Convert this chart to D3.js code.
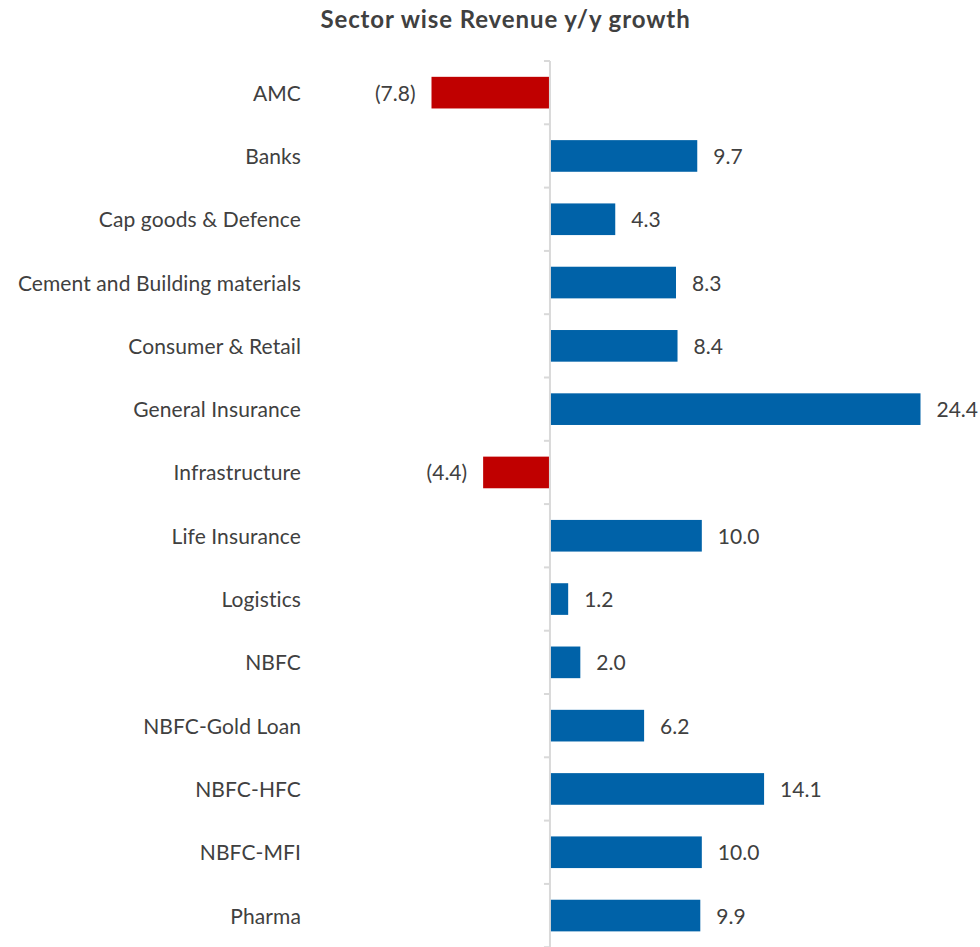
<!DOCTYPE html>
<html>
<head>
<meta charset="utf-8">
<script src="https://cdn.jsdelivr.net/npm/d3@7"></script>
<style>
  body { margin: 0; background: #fff; }
  text { font-family: Lato, "Open Sans", sans-serif; fill: #404040; }
</style>
</head>
<body>
<div id="chart"></div>
<script>
// Data
var sectors = ['AMC', 'Banks', 'Cap goods & Defence', 'Cement and Building materials',
  'Consumer & Retail', 'General Insurance', 'Infrastructure', 'Life Insurance',
  'Logistics', 'NBFC', 'NBFC-Gold Loan', 'NBFC-HFC', 'NBFC-MFI', 'Pharma'];
var growth = [-7.8, 9.7, 4.3, 8.3, 8.4, 24.4, -4.4, 10.0, 1.2, 2.0, 6.2, 14.1, 10.0, 9.9];

var data = sectors.map((s, i) => ({ sector: s, value: growth[i] }));

var width = 980, height = 947;

var svg = d3.select('#chart')
  .append('svg')
  .attr('width', width)
  .attr('height', height);

// Title
svg.append('text')
  .attr('x', 505.5)
  .attr('y', 28)
  .attr('text-anchor', 'middle')
  .style('font-size', '24px')
  .style('font-weight', 'bold')
  .style('letter-spacing', '0.9px')
  .text('Sector wise Revenue y/y growth');

// Scales
var x = d3.scaleLinear()
  .domain([-7.8, 24.4])
  .range([431.5, 920.5]);

var y = d3.scaleBand()
  .domain(sectors)
  .range([61, 61 + 63.3 * sectors.length])
  .paddingInner(0.5)
  .paddingOuter(0.25);

// Bars
svg.selectAll('.bar')
  .data(data)
  .enter().append('rect')
  .attr('class', 'bar')
  .attr('x', d => x(Math.min(0, d.value)))
  .attr('y', d => y(d.sector))
  .attr('width', d => Math.abs(x(d.value) - x(0)))
  .attr('height', y.bandwidth())
  .style('fill', d => d.value < 0 ? '#c00000' : '#0062a8');

// Category axis at zero, ticks between categories
var axisX = x(0);
svg.append('line')
  .attr('x1', axisX).attr('x2', axisX)
  .attr('y1', 61).attr('y2', height)
  .style('stroke', '#d9d9d9')
  .style('stroke-width', 2);

svg.selectAll('.tick')
  .data(d3.range(sectors.length + 1))
  .enter().append('line')
  .attr('class', 'tick')
  .attr('x1', axisX - 6).attr('x2', axisX)
  .attr('y1', i => 61 + y.step() * i)
  .attr('y2', i => 61 + y.step() * i)
  .style('stroke', '#d9d9d9')
  .style('stroke-width', 2);

// Category labels
svg.selectAll('.cat')
  .data(data)
  .enter().append('text')
  .attr('class', 'cat')
  .attr('x', 301)
  .attr('y', d => y(d.sector) + y.bandwidth() / 2)
  .attr('dy', '0.38em')
  .attr('text-anchor', 'end')
  .style('font-size', '21px')
  .style('letter-spacing', '0.1px')
  .text(d => d.sector);

// Value labels
var fmt = d3.format('.1f');
svg.selectAll('.val')
  .data(data)
  .enter().append('text')
  .attr('class', 'val')
  .attr('x', d => d.value < 0 ? x(d.value) - 16 : x(d.value) + 16)
  .attr('y', d => y(d.sector) + y.bandwidth() / 2)
  .attr('dy', '0.38em')
  .attr('text-anchor', d => d.value < 0 ? 'end' : 'start')
  .style('font-size', '21px')
  .text(d => d.value < 0 ? '(' + fmt(-d.value) + ')' : fmt(d.value));
</script>
</body>
</html>
